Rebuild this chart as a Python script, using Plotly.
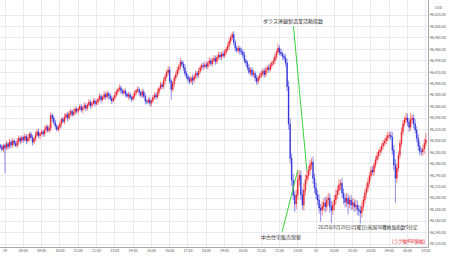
import plotly.graph_objects as go

# ---- data ----
hour_labels = ["29", "08:00", "09:00", "10:00", "11:00", "12:00", "13:00", "14:00", "15:00",
               "16:00", "17:00", "18:00", "19:00", "20:00", "21:00", "22:00", "23:00", "30",
               "01:00", "02:00", "03:00", "04:00", "05:00", "07:00"]
price_ticks = [46120, 46140, 46160, 46180, 46200, 46220, 46240, 46260, 46280, 46300, 46320,
               46340, 46360, 46380, 46400, 46420, 46440, 46460, 46480, 46500, 46520]
first_open = 46292
closes = [
    46290, 46285, 46292,
    46288, 46295, 46290, 46298, 46293, 46300, 46296, 46292, 46299, 46305, 46300, 46306,
    46302, 46308, 46300, 46305, 46312, 46306, 46298, 46304, 46310, 46316, 46309, 46313,
    46316, 46312, 46320, 46325, 46318, 46322, 46345, 46340, 46332, 46326, 46320, 46324,
    46330, 46338, 46334, 46342, 46346, 46340, 46348, 46352, 46346, 46350, 46356, 46352,
    46356, 46360, 46354, 46358, 46362, 46357, 46363, 46368, 46362, 46366, 46370, 46365,
    46368, 46373, 46378, 46372, 46376, 46381, 46377, 46383, 46379, 46374, 46370, 46375,
    46380, 46386, 46390, 46393, 46388, 46384, 46387, 46382, 46378, 46381, 46376, 46373,
    46378, 46384, 46388, 46390, 46385, 46380, 46386, 46378, 46370, 46368, 46372, 46366,
    46370, 46376, 46380, 46377, 46385, 46392, 46398, 46395, 46405, 46412, 46420, 46424,
    46405, 46390, 46400, 46410, 46416, 46424, 46430, 46438, 46434, 46428, 46418, 46412,
    46408, 46404, 46410, 46406, 46412, 46418, 46415, 46422, 46428, 46432, 46430, 46433,
    46430, 46436, 46440, 46435, 46441, 46444, 46439, 46446, 46450, 46447, 46452, 46449,
    46455, 46460, 46466, 46474, 46481, 46486, 46472, 46462, 46458, 46462, 46457, 46455,
    46450, 46440, 46436, 46428, 46420, 46424, 46416, 46418, 46410, 46404, 46410, 46414,
    46418, 46422, 46416, 46424, 46428, 46425, 46432, 46436, 46440, 46447, 46455, 46462,
    46455, 46452, 46448, 46445, 46436, 46395, 46330, 46270, 46232, 46205, 46190, 46206,
    46232, 46240, 46206, 46188, 46214, 46232, 46240, 46249, 46258, 46263, 46235, 46218,
    46206, 46197, 46183, 46179, 46186, 46192, 46185, 46197, 46200, 46185, 46179, 46188,
    46197, 46206, 46214, 46223, 46226, 46209, 46200, 46193, 46200, 46190, 46197, 46188,
    46192, 46185, 46188, 46181, 46178, 46174, 46185, 46197, 46209, 46218, 46228, 46239,
    46249, 46246, 46258, 46267, 46274, 46281, 46284, 46291, 46296, 46300, 46305, 46309,
    46310, 46307, 46284, 46258, 46235, 46253, 46275, 46296, 46316, 46330, 46337, 46340,
    46333, 46324, 46337, 46340, 46330, 46319, 46305, 46291, 46282, 46281, 46286, 46296,
    46302,
]
wick_up = [
    3, 4, 3,
    4, 5, 3, 6, 4, 5, 3, 4, 6, 5, 3, 4,
    3, 5, 4, 6, 3, 4, 5, 3, 6, 4, 5, 3,
    4, 3, 5, 4, 3, 6, 5, 3, 4, 5, 3, 4,
    5, 3, 4, 6, 3, 4, 5, 4, 3, 6, 4, 3,
    3, 4, 5, 3, 6, 4, 3, 5, 4, 3, 5, 4,
    4, 3, 5, 4, 3, 6, 4, 5, 3, 4, 5, 3,
    5, 4, 3, 6, 4, 3, 5, 4, 3, 5, 4, 3,
    4, 5, 3, 6, 4, 3, 5, 4, 6, 3, 4, 5,
    3, 4, 5, 4, 6, 3, 5, 4, 6, 5, 4, 6,
    6, 4, 5, 4, 6, 5, 4, 7, 4, 5, 6, 4,
    4, 5, 3, 6, 4, 5, 4, 6, 5, 4, 5, 6,
    5, 4, 6, 5, 4, 6, 5, 4, 6, 5, 4, 6,
    5, 4, 6, 5, 4, 4, 6, 5, 4, 5, 4, 6,
    5, 6, 4, 5, 6, 4, 5, 6, 4, 5, 4, 5,
    5, 4, 6, 5, 4, 6, 5, 4, 6, 5, 4, 8,
    5, 6, 4, 5, 6, 8, 10, 9, 8, 10, 7, 9,
    17, 9, 8, 10, 12, 9, 8, 7, 9, 7, 10, 8,
    9, 8, 10, 7, 9, 8, 10, 7, 9, 8, 10, 7,
    8, 9, 7, 10, 6, 9, 8, 7, 9, 8, 7, 9,
    8, 7, 9, 8, 7, 9, 8, 7, 6, 8, 7, 6,
    6, 7, 5, 6, 7, 5, 6, 5, 6, 5, 6, 7,
    6, 7, 8, 9, 10, 8, 7, 6, 8, 7, 6, 9,
    8, 7, 12, 6, 7, 8, 6, 7, 8, 6, 7, 8,
    12,
]
wick_dn = [
    4, 3, 5,
    44, 4, 5, 3, 6, 4, 5, 3, 4, 6, 5, 4,
    5, 3, 6, 4, 5, 3, 6, 4, 5, 3, 4, 6,
    3, 5, 4, 6, 3, 4, 5, 6, 4, 5, 3, 4,
    4, 6, 3, 5, 4, 6, 3, 5, 4, 3, 5, 4,
    5, 3, 4, 6, 3, 5, 4, 3, 6, 4, 3, 5,
    3, 5, 4, 6, 3, 4, 5, 3, 6, 4, 5, 3,
    4, 3, 5, 4, 6, 3, 4, 5, 3, 6, 4, 5,
    3, 5, 4, 3, 6, 4, 5, 3, 6, 4, 3, 5,
    6, 4, 3, 5, 4, 6, 3, 5, 4, 6, 3, 5,
    5, 18, 4, 6, 5, 4, 6, 5, 4, 6, 5, 4,
    6, 5, 4, 8, 5, 4, 6, 5, 4, 5, 6, 4,
    4, 5, 6, 4, 5, 4, 6, 5, 4, 5, 6, 4,
    4, 5, 4, 6, 5, 4, 5, 6, 4, 5, 6, 5,
    5, 4, 6, 5, 4, 6, 5, 4, 6, 6, 5, 4,
    4, 5, 6, 4, 5, 6, 4, 5, 4, 6, 5, 4,
    5, 4, 6, 5, 6, 8, 10, 9, 10, 8, 14, 9,
    8, 10, 9, 8, 10, 9, 8, 7, 9, 8, 10, 9,
    8, 9, 10, 20, 9, 8, 10, 7, 9, 10, 22, 8,
    9, 8, 7, 8, 9, 8, 10, 9, 8, 18, 7, 9,
    8, 9, 7, 10, 9, 18, 8, 7, 6, 8, 7, 6,
    6, 5, 7, 6, 5, 6, 7, 5, 6, 5, 6, 5,
    6, 5, 8, 9, 43, 8, 7, 6, 7, 6, 5, 6,
    7, 8, 6, 7, 8, 6, 7, 8, 7, 6, 7, 8,
    6,
]
events = ["ダラス連銀製造業活動指数", "中古住宅販売保留"]
event_times = ["23:30", "23:00"]
title_text = "2025年9月29日(月曜日)米国30種株価指数5分足"
note_text = "[ラグ幅400値幅]"

# ---- build ----
n_pre = 3
idx = list(range(-n_pre, len(closes) - n_pre))
opens = [first_open] + closes[:-1]
highs = [max(o, c) + u for o, c, u in zip(opens, closes, wick_up)]
lows = [min(o, c) - d for o, c, d in zip(opens, closes, wick_dn)]
tick_vals = [12 * k for k in range(len(hour_labels))]

def idx_of(t):
    h, m = map(int, t.split(":"))
    hours = (h - 7) % 24
    return hours * 12 + m // 5

fig = go.Figure(go.Candlestick(
    x=idx, open=opens, high=highs, low=lows, close=closes,
    increasing=dict(line=dict(color="rgba(232,16,26,0.85)", width=0.6), fillcolor="#e8101a"),
    decreasing=dict(line=dict(color="rgba(34,34,216,0.85)", width=0.6), fillcolor="#2222d8"),
    whiskerwidth=0, showlegend=False, hoverinfo="skip",
))

grid = "#e9e9f0"
fig.update_layout(
    width=450, height=258, margin=dict(l=0, r=22, t=0, b=11),
    paper_bgcolor="white", plot_bgcolor="white",
    font=dict(family="Noto Sans CJK JP, DejaVu Sans", color="#444"),
    xaxis=dict(range=[-3.28, 277.4], tickvals=tick_vals, ticktext=hour_labels,
               showgrid=True, gridcolor=grid, gridwidth=1, zeroline=False,
               showline=True, linecolor="#aaaaaa", linewidth=1,
               tickfont=dict(size=3.6, color="#555"), ticks="", ticklen=0,
               rangeslider=dict(visible=False), fixedrange=True),
    yaxis=dict(range=[46114.8, 46546.2], side="right", tickvals=price_ticks,
               tickformat=",.2f", showgrid=True, gridcolor=grid, gridwidth=1,
               zeroline=False, showline=True, linecolor="#aaaaaa", linewidth=1,
               tickfont=dict(size=3.6, color="#555"), ticks="", ticklen=0),
)

# event annotations
top_i = idx_of(event_times[0])
bot_i = idx_of(event_times[1])
fig.add_annotation(x=top_i, y=highs[top_i + n_pre], xref="x", yref="y",
                   text=events[0], showarrow=True, arrowhead=0, arrowwidth=1,
                   arrowcolor="#3ad13a", ax=-14, ay=-150,
                   font=dict(size=5, color="#333"))
fig.add_annotation(x=bot_i, y=highs[bot_i + n_pre], xref="x", yref="y",
                   text=events[1], showarrow=True, arrowhead=0, arrowwidth=1,
                   arrowcolor="#3ad13a", ax=-17, ay=67,
                   font=dict(size=5, color="#333"))
fig.add_annotation(x=0.982, y=0.055, xref="paper", yref="paper", xanchor="right",
                   yanchor="bottom", text=title_text, showarrow=False,
                   font=dict(size=4.7, color="#333"))
fig.add_annotation(x=1.0, y=0.0, xref="paper", yref="paper", xanchor="right",
                   yanchor="bottom", text=note_text, showarrow=False,
                   font=dict(size=4.5, color="#e8101a"))
fig.add_annotation(x=1.0, y=1.0, xref="paper", yref="paper", xanchor="left",
                   yanchor="top", xshift=5, yshift=-3, text="USD", showarrow=False,
                   font=dict(size=3.6, color="#555"))

fig.write_html("out.html")
